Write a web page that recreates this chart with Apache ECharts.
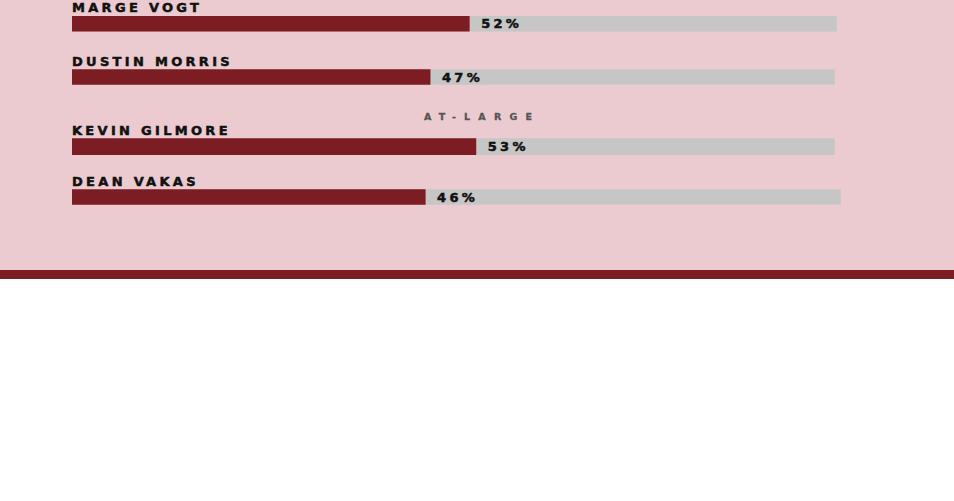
<!DOCTYPE html>
<html><head><meta charset="utf-8">
<script src="https://cdn.jsdelivr.net/npm/echarts@6/dist/echarts.min.js"></script>
<style>
html,body{margin:0;padding:0;background:#fff;}
#c{width:954px;height:501px;background:linear-gradient(to bottom,#ebcbcf 0,#ebcbcf 270px,#7c1c23 270px,#7c1c23 279px,#fff 279px,#fff 100%);}
#c text{letter-spacing:3.3px;}
#c text[style*="sectionfont"]{letter-spacing:8.2px;}
</style></head>
<body><div id="c"></div>
<script>
// ---- data ----
const candidates = ['MARGE VOGT', 'DUSTIN MORRIS', 'KEVIN GILMORE', 'DEAN VAKAS'];
const shares = [52, 47, 53, 46];
const trackMax = [100, 100, 100, 100];
const sectionLabels = ['AT-LARGE'];

// ---- layout ----
const barLeft = 72;
const barTops = [16, 69.3, 138.3, 189.3];
const barHeights = [15.6, 15.4, 16.7, 15.4];
const trackWidths = [764.7, 762.7, 762.7, 768.7];
const FONT = "'DejaVu Sans', sans-serif";
const RED = '#7c1c23', GRAY = '#c6c6c6', INK = '#111111';

const chart = echarts.init(document.getElementById('c'), null, {renderer: 'svg'});
const grid = candidates.map((_, i) => ({left: barLeft, top: barTops[i], width: trackWidths[i], height: barHeights[i]}));
const xAxis = candidates.map((_, i) => ({type: 'value', gridIndex: i, min: 0, max: trackMax[i], show: false}));
const yAxis = candidates.map((name, i) => ({
  type: 'category', gridIndex: i, data: [name],
  axisLine: {show: false}, axisTick: {show: false}, splitLine: {show: false},
  axisLabel: {inside: true, margin: 0, align: 'left', verticalAlign: 'bottom',
    padding: [0, 0, barHeights[i] / 2 + 1.6, 0],
    color: INK, fontFamily: FONT, fontWeight: 'bold', fontSize: 13,
    textBorderColor: INK, textBorderWidth: 0.5}
}));
const series = shares.map((v, i) => ({
  type: 'bar', xAxisIndex: i, yAxisIndex: i, data: [v], barWidth: barHeights[i],
  showBackground: true, backgroundStyle: {color: GRAY},
  itemStyle: {color: RED},
  label: {show: true, position: 'right', distance: 11.5, formatter: '{c}%',
    color: INK, fontFamily: FONT, fontWeight: 'bold', fontSize: 13,
    textBorderColor: INK, textBorderWidth: 0.5}
}));

chart.setOption({
  animation: false,
  backgroundColor: 'transparent',
  grid, xAxis, yAxis, series,
  graphic: [{
    type: 'text', x: 482, y: 111,
    style: {text: sectionLabels[0], align: 'center', verticalAlign: 'top',
      fill: '#555555', stroke: '#555555', lineWidth: 0.3,
      fontFamily: "'DejaVu Sans', sectionfont", fontWeight: 'bold', fontSize: 9.5}
  }]
});
</script>
</body></html>
